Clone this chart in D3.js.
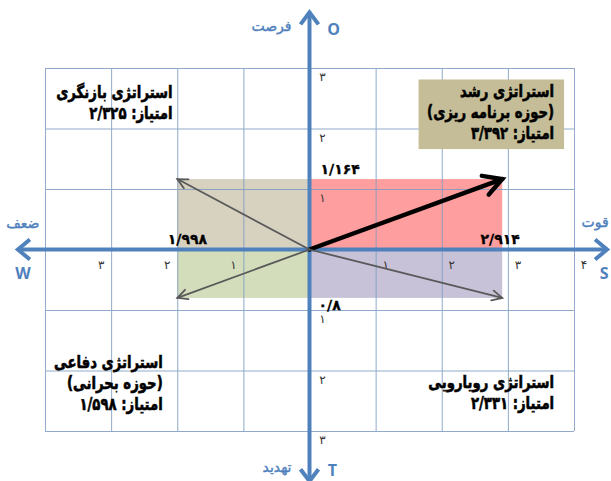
<!DOCTYPE html>
<html>
<head>
<meta charset="utf-8">
<script src="https://cdn.jsdelivr.net/npm/d3@7"></script>
<style>
body { margin: 0; background: #fff; }
svg { display: block; }
</style>
</head>
<body>
<div id="chart"></div>
<script>
// SWOT factor scores (internal: S/W, external: O/T)
const factorKeys = ["S", "W", "O", "T"];
const factorNames = ["قوت", "ضعف", "فرصت", "تهدید"];
const factorScores = [2.914, 1.998, 1.164, 0.8];

const xTicks = [-3, -2, -1, 1, 2, 3, 4];
const yTicks = [3, 2, 1, -1, -2, -3];

// quadrants: SO, WO, WT, ST
const quadrantKeys = ["SO", "WO", "WT", "ST"];
const quadrantColors = ["#FF9E9E", "#D7D1C0", "#D3DCBB", "#C7C2D8"];
const strategyTitles = ["استراتژی رشد", "استراتژی بازنگری", "استراتژی دفاعی", "استراتژی رویارویی"];
const strategySubtitles = ["(حوزه برنامه ریزی)", "", "(حوزه بحرانی)", ""];
const strategyScores = [3.392, 2.325, 1.598, 2.331];

const W = 611, H = 481;
const blue = "#4F81BD";

function toFa(v) {
	return String(v).replace(".", "/").replace(/[0-9]/g, d => "۰۱۲۳۴۵۶۷۸۹"[+d]);
}

function chevron(x1, y1, x2, y2, len, half) {
	const a = Math.atan2(y2 - y1, x2 - x1);
	const bx = x2 - len * Math.cos(a), by = y2 - len * Math.sin(a);
	return "M" + (bx + half * Math.sin(a)) + "," + (by - half * Math.cos(a)) +
		"L" + x2 + "," + y2 +
		"L" + (bx - half * Math.sin(a)) + "," + (by + half * Math.cos(a));
}

const svg = d3.select("#chart").append("svg")
	.attr("width", W).attr("height", H);

const x = d3.scaleLinear().domain([-4, 4]).range([45, 574]);
const y = d3.scaleLinear().domain([-3, 3]).range([431, 68]);

const score = {};
factorKeys.forEach((k, i) => score[k] = factorScores[i]);

// quadrant rectangles
const quadX = { S: score.S, W: -score.W };
const quadY = { O: score.O, T: -score.T };
svg.append("g").selectAll("rect")
	.data(quadrantKeys)
	.enter().append("rect")
	.attr("x", d => Math.min(x(0), x(quadX[d[0]])))
	.attr("y", d => Math.min(y(0), y(quadY[d[1]])))
	.attr("width", d => Math.abs(x(quadX[d[0]]) - x(0)))
	.attr("height", d => Math.abs(y(quadY[d[1]]) - y(0)))
	.style("fill", (d, i) => quadrantColors[i]);

// grid
const grid = svg.append("g").attr("stroke", "#7E9CC2").attr("stroke-width", 1).attr("opacity", 0.85);
grid.selectAll(".v").data(d3.range(-4, 5)).enter().append("line")
	.attr("x1", d => x(d) + 0.5).attr("x2", d => x(d) + 0.5)
	.attr("y1", y(3)).attr("y2", y(-3));
grid.selectAll(".h").data(d3.range(-3, 4)).enter().append("line")
	.attr("y1", d => y(d) + 0.5).attr("y2", d => y(d) + 0.5)
	.attr("x1", x(-4)).attr("x2", x(4));

// axes with chevron ends
const xEnds = [-4.41, 4.5], yEnds = [-3.83, 3.92];
const axes = svg.append("g").attr("stroke", blue).attr("fill", "none")
	.attr("stroke-width", 4);
axes.append("line").attr("x1", x(xEnds[0])).attr("x2", x(xEnds[1]))
	.attr("y1", y(0)).attr("y2", y(0));
axes.append("line").attr("x1", x(0)).attr("x2", x(0))
	.attr("y1", y(yEnds[0])).attr("y2", y(yEnds[1]));
axes.append("path").attr("d", chevron(x(0), y(0), x(xEnds[1]), y(0), 12, 10));
axes.append("path").attr("d", chevron(x(0), y(0), x(xEnds[0]), y(0), 12, 10));
axes.append("path").attr("d", chevron(x(0), y(0), x(0), y(yEnds[1]), 12, 9));
axes.append("path").attr("d", chevron(x(0), y(0), x(0), y(yEnds[0]), 12, 9));

// tick labels
svg.append("g").selectAll("text").data(xTicks).enter().append("text")
	.attr("x", d => x(d) + (d < 0 ? -10 : 10))
	.attr("y", y(0) + 19)
	.attr("text-anchor", "middle")
	.style("font", "12px 'DejaVu Sans'").style("fill", "#333")
	.text(d => toFa(Math.abs(d)));
svg.append("g").selectAll("text").data(yTicks).enter().append("text")
	.attr("x", x(0) + 13)
	.attr("y", d => y(d) + 13)
	.attr("text-anchor", "middle")
	.style("font", "12px 'DejaVu Sans'").style("fill", "#333")
	.text(d => toFa(Math.abs(d)));

// direction arrows from origin to quadrant corners
const corners = quadrantKeys.map(k => [quadX[k[0]], quadY[k[1]]]);
const arrows = svg.append("g").attr("fill", "none").attr("stroke-linecap", "round");
corners.forEach((c, i) => {
	const main = i === 0;
	const x2 = x(c[0]), y2 = y(c[1]);
	arrows.append("line")
		.attr("x1", x(0)).attr("y1", y(0)).attr("x2", x2).attr("y2", y2)
		.attr("stroke", main ? "#000" : "#595959")
		.attr("stroke-width", main ? 4.5 : 1.8);
	arrows.append("path")
		.attr("d", main ? chevron(x(0), y(0), x2, y2, 18, 10) : chevron(x(0), y(0), x2, y2, 10, 5))
		.attr("stroke", main ? "#000" : "#595959")
		.attr("stroke-width", main ? 4.5 : 1.8);
});

// factor score labels
const vl = svg.append("g").style("font", "bold 14px 'DejaVu Sans'")
	.style("fill", "#000").style("stroke", "#000").style("stroke-width", 0.3);
vl.append("text").attr("x", x(0) + 11).attr("y", y(score.O) - 5).text(toFa(score.O));
vl.append("text").attr("x", x(-score.W) + 10).attr("y", y(0) - 6)
	.attr("text-anchor", "middle").text(toFa(score.W));
vl.append("text").attr("x", x(score.S) - 2).attr("y", y(0) - 6)
	.attr("text-anchor", "middle").text(toFa(score.S));
vl.append("text").attr("x", x(0) + 9).attr("y", y(-score.T) + 12).text(toFa(score.T));

// axis names
const nameStyle = "14px 'DejaVu Sans'";
const letterStyle = "bold 16px 'Open Sans'";
const ax = svg.append("g").style("fill", blue);
const names = ax.append("g").style("stroke", blue).style("stroke-width", 0.4).style("font", nameStyle);
const letters = ax.append("g").style("font", letterStyle);
letters.append("text").attr("x", x(0) + 24).attr("y", y(yEnds[1]) + 23).attr("text-anchor", "middle")
	.text(factorKeys[2]);
names.append("text").attr("x", x(0) - 18).attr("y", y(yEnds[1]) + 19).attr("text-anchor", "end")
	.text(factorNames[2]);
letters.append("text").attr("x", x(0) + 23).attr("y", y(yEnds[0]) - 5).attr("text-anchor", "middle")
	.text(factorKeys[3]);
names.append("text").attr("x", x(0) - 18).attr("y", y(yEnds[0]) - 9).attr("text-anchor", "end")
	.text(factorNames[3]);
names.append("text").attr("x", x(xEnds[0]) + 5).attr("y", y(0) - 22).attr("text-anchor", "middle")
	.text(factorNames[1]);
letters.append("text").attr("x", x(xEnds[0]) + 5).attr("y", y(0) + 29).attr("text-anchor", "middle")
	.text(factorKeys[1]);
names.append("text").attr("x", x(xEnds[1]) - 12).attr("y", y(0) - 23).attr("text-anchor", "middle")
	.text(factorNames[0]);
letters.append("text").attr("x", x(xEnds[1]) - 3).attr("y", y(0) + 29).attr("text-anchor", "middle")
	.text(factorKeys[0]);

// strategy labels: right edge and first baseline, in chart units
const labelPos = { SO: [3.7, 2.52], WO: [-2.07, 2.51], WT: [-2.22, -1.96], ST: [3.7, -2.29] };
const lineH = 21;

// box behind growth strategy
svg.append("rect")
	.attr("x", x(1.65)).attr("y", y(2.81))
	.attr("width", x(3.85) - x(1.65)).attr("height", y(1.66) - y(2.81))
	.style("fill", "#C4BD97");

quadrantKeys.forEach((k, i) => {
	const lines = [strategyTitles[i]];
	if (strategySubtitles[i]) lines.push(strategySubtitles[i]);
	lines.push("امتیاز: " + toFa(strategyScores[i]));
	const p = labelPos[k];
	svg.append("g")
		.attr("transform", "translate(" + x(p[0]) + ",0) scale(0.78,1)")
		.selectAll("text").data(lines).enter().append("text")
		.attr("x", 0)
		.attr("y", (d, j) => y(p[1]) + j * lineH)
		.attr("direction", "rtl")
		.attr("text-anchor", "start")
		.style("font", "bold 17px 'DejaVu Sans'")
		.style("fill", "#000")
		.style("stroke", "#000")
		.style("stroke-width", 0.6)
		.text(d => d);
});
</script>
</body>
</html>
